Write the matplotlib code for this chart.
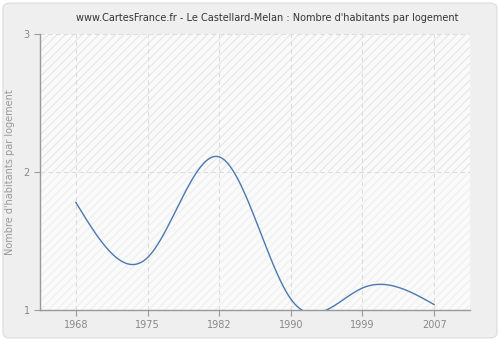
import numpy as np
import matplotlib
matplotlib.use("Agg")
import matplotlib.pyplot as plt
from matplotlib.patches import FancyBboxPatch, Rectangle

years = ["1968", "1975", "1982", "1990", "1999", "2007"]
values = [1.78, 1.38, 2.11, 1.08, 1.16, 1.04]
y_ticks = [1, 2, 3]
title = "www.CartesFrance.fr - Le Castellard-Melan : Nombre d'habitants par logement"
ylabel = "Nombre d'habitants par logement"

plt.rcParams["hatch.linewidth"] = 0.8


def natural_spline(x, y, xs):
    x = np.asarray(x, float); y = np.asarray(y, float)
    n = len(x)
    h = np.diff(x)
    A = np.zeros((n, n)); b = np.zeros(n)
    A[0, 0] = 1; A[-1, -1] = 1
    for i in range(1, n - 1):
        A[i, i - 1] = h[i - 1]
        A[i, i] = 2 * (h[i - 1] + h[i])
        A[i, i + 1] = h[i]
        b[i] = 3 * ((y[i + 1] - y[i]) / h[i] - (y[i] - y[i - 1]) / h[i - 1])
    c = np.linalg.solve(A, b)
    out = np.empty_like(xs)
    for k, xv in enumerate(xs):
        i = min(max(np.searchsorted(x, xv) - 1, 0), n - 2)
        dx = xv - x[i]
        bi = (y[i + 1] - y[i]) / h[i] - h[i] * (2 * c[i] + c[i + 1]) / 3
        di = (c[i + 1] - c[i]) / (3 * h[i])
        out[k] = y[i] + bi * dx + c[i] * dx ** 2 + di * dx ** 3
    return out


fig = plt.figure(figsize=(5, 3.4), dpi=100)
fig.patch.set_facecolor("white")
bg = FancyBboxPatch((0.006, 0.006), 0.988, 0.985, boxstyle="round,pad=0,rounding_size=0.015",
                    transform=fig.transFigure, facecolor="#efefef", edgecolor="#dcdcdc",
                    linewidth=0.8, zorder=-10)
fig.patches.append(bg)

ax = fig.add_axes([0.08, 0.088, 0.86, 0.812])
ax.set_facecolor("#fafafa")
ax.set_xlim(-0.5, 5.5)
ax.set_ylim(1, 3)

# hatched bands
ax.add_patch(Rectangle((-0.5, 2), 6, 1, facecolor="none", edgecolor="#e6e6e6",
                       hatch="////", linewidth=0, zorder=0))
ax.add_patch(Rectangle((-0.5, 1), 6, 1, facecolor="none", edgecolor="#efefef",
                       hatch="////", linewidth=0, zorder=0))

xi = np.arange(len(years))
xs = np.linspace(0, len(years) - 1, 400)
ys = natural_spline(xi, values, xs)
ax.plot(xs, ys, color="#4a78b0", linewidth=1.0, zorder=3, clip_on=True)

ax.set_xticks(xi)
ax.set_xticklabels(years)
ax.set_yticks(y_ticks)
ax.set_yticklabels([str(v) for v in y_ticks])
for v in xi:
    ax.axvline(v, color="#dddddd", linestyle=(0, (4, 3)), linewidth=0.8, zorder=1)
for v in y_ticks[1:]:
    ax.axhline(v, color="#dddddd", linestyle=(0, (4, 3)), linewidth=0.8, zorder=1)

for s in ["top", "right"]:
    ax.spines[s].set_visible(False)
for s in ["left", "bottom"]:
    ax.spines[s].set_color("#999999")
    ax.spines[s].set_linewidth(1.0)
ax.tick_params(axis="both", colors="#999999", labelcolor="#888888", labelsize=7,
               length=4, width=0.8, direction="out")
ax.set_ylabel(ylabel, color="#999999", fontsize=7, labelpad=6)
fig.text(0.534, 0.948, title, ha="center", va="center", fontsize=7, color="#333333")

fig.savefig("out.png", dpi=100, facecolor=fig.get_facecolor())
